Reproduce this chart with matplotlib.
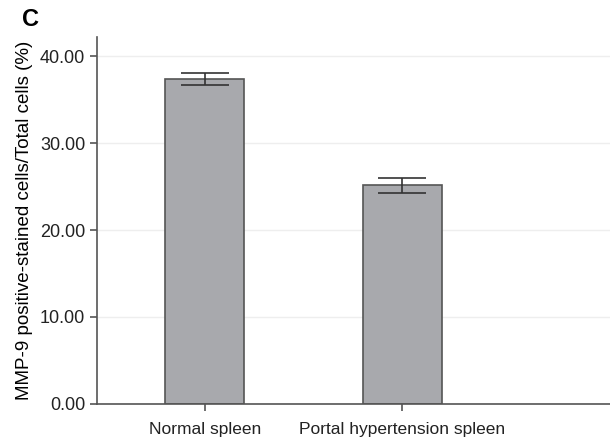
import numpy as np
import matplotlib.pyplot as plt

plt.rcParams['font.family'] = ['Liberation Sans', 'DejaVu Sans']

groups = ["Normal spleen", "Portal hypertension spleen"]
means = [37.4, 25.2]
err_low = [0.7, 0.9]
err_high = [0.7, 0.8]
yticks = [0, 10, 20, 30, 40]

fig = plt.figure(figsize=(6.1, 4.4), dpi=100)
ax = fig.add_axes([0.159, 0.082, 0.841, 0.834])

x = np.arange(len(groups))
ax.bar(x, means, width=0.4, color='#a8a9ad', edgecolor='#555555', linewidth=1.2, zorder=2)
ax.errorbar(x, means, yerr=[err_low, err_high], fmt='none', ecolor='#333333',
            elinewidth=1.2, capsize=17, capthick=1.2, zorder=3)

ax.set_xlim(-0.545, 2.05)
ax.set_ylim(0, 42.2)
ax.set_yticks(yticks)
ax.set_yticklabels([f"{v:.2f}" for v in yticks], fontsize=13)
ax.set_xticks(x)
ax.set_xticklabels(groups, fontsize=12.5)
ax.yaxis.grid(True, color='#eeeeee', linewidth=1, zorder=0)
ax.set_axisbelow(True)

for s in ['top', 'right']:
    ax.spines[s].set_visible(False)
for s in ['left', 'bottom']:
    ax.spines[s].set_color('#555555')
    ax.spines[s].set_linewidth(1.2)
ax.tick_params(axis='both', color='#555555', width=1.2, length=5, colors='#222222')
ax.tick_params(axis='x', pad=8)

ax.set_ylabel("MMP-9 positive-stained cells/Total cells (%)", fontsize=13.5, labelpad=5)
fig.text(0.036, 0.955, "C", fontsize=17, fontweight='bold', va='center', ha='left')

fig.savefig("out.png", dpi=100)
